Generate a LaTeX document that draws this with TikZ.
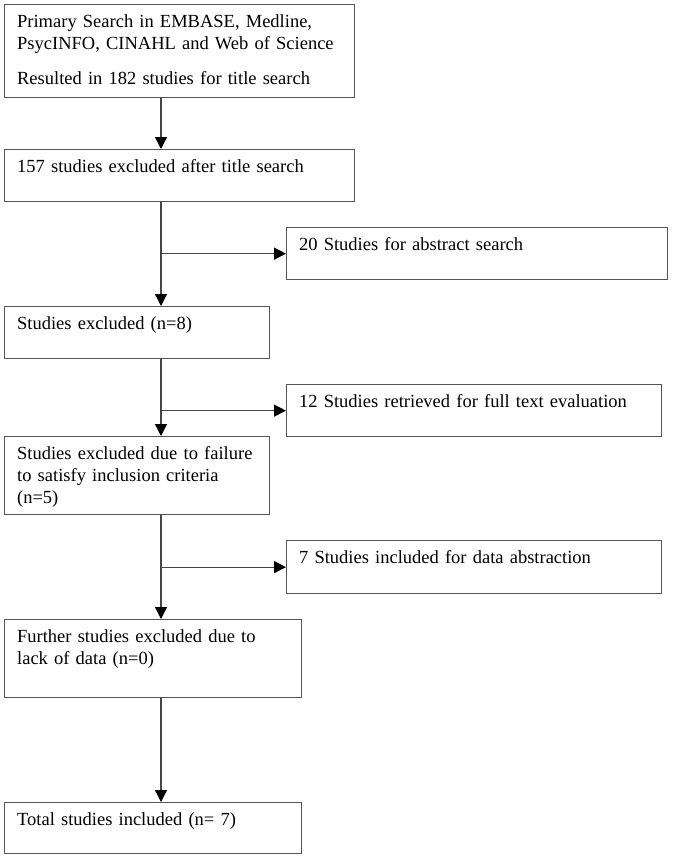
\documentclass[tikz,border=0pt]{standalone}
\usepackage{fontspec}
\setmainfont{Liberation Serif}
\usetikzlibrary{arrows.meta}
\definecolor{boxgray}{RGB}{85,85,85}
\definecolor{linegray}{RGB}{70,70,70}
\begin{document}
\begin{tikzpicture}[x=1pt,y=-1pt,
  box/.style={draw=boxgray, line width=1.3pt, anchor=north west, inner xsep=12.5pt, inner ysep=0pt,
    align=left, font=\fontsize{18.5}{21.7}\selectfont, text height=23pt},
  arr/.style={draw=linegray, line width=1.3pt, -{Triangle[length=12pt,width=12pt,color=black]}}]
\useasboundingbox (0,0) rectangle (672,859);
\node[box, text width=325pt, text depth=70pt] (b1) at (4,4)
  {\mbox{Primary Search in EMBASE, Medline,}\\ \mbox{PsycINFO, CINAHL and Web of Science}\\[13pt] \mbox{Resulted in 182 studies for title search}};
\node[box, text width=325pt, text depth=29pt] (b2) at (4,149) {157 studies excluded after title search};
\node[box, text width=356pt, text depth=29pt] (b3) at (286,227) {20 Studies for abstract search};
\node[box, text width=240pt, text depth=29pt] (b4) at (4,306) {Studies excluded (n=8)};
\node[box, text width=350pt, text depth=29pt] (b5) at (286,384) {12 Studies retrieved for full text evaluation};
\node[box, text width=240pt, text depth=55pt] (b6) at (4,436)
  {\mbox{Studies excluded due to failure}\\ \mbox{to satisfy inclusion criteria}\\ (n=5)};
\node[box, text width=350pt, text depth=30pt] (b7) at (286,540) {7 Studies included for data abstraction};
\node[box, text width=272pt, text depth=55pt] (b8) at (4,619) {\mbox{Further studies excluded due to}\\ lack of data (n=0)};
\node[box, text width=272pt, text depth=28pt] (b9) at (4,802) {Total studies included (n= 7)};
\coordinate (x1) at (161,0);
\draw[arr] (b1.south -| x1) -- (b2.north -| x1);
\draw[arr] (b2.south -| x1) -- (b4.north -| x1);
\draw[arr] (b3.west -| x1) -- (b3.west);
\draw[arr] (b4.south -| x1) -- (b6.north -| x1);
\draw[arr] (b5.west -| x1) -- (b5.west);
\draw[arr] (b6.south -| x1) -- (b8.north -| x1);
\draw[arr] (b7.west -| x1) -- (b7.west);
\draw[arr] (b8.south -| x1) -- (b9.north -| x1);
\end{tikzpicture}
\end{document}
